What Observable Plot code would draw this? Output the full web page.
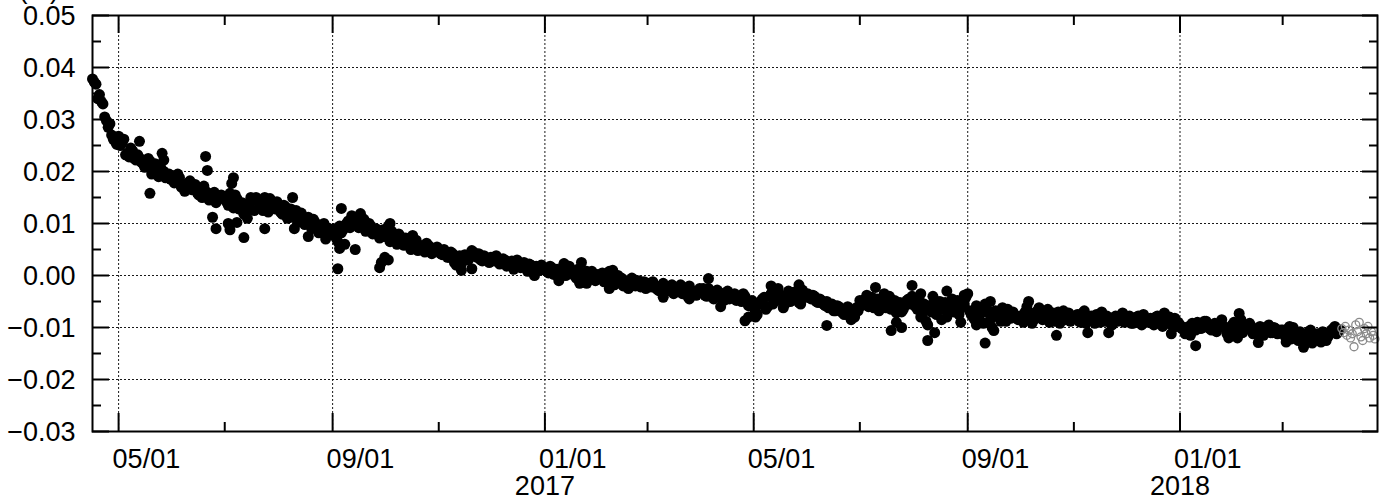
<!DOCTYPE html>
<html>
<head>
<meta charset="utf-8">
<script src="https://cdn.jsdelivr.net/npm/d3@7"></script>
<script src="https://cdn.jsdelivr.net/npm/@observablehq/plot@0.6"></script>
<style>
  body { margin: 0; background: #fff; }
  #chart svg { display: block; }
</style>
</head>
<body>
<div id="chart"></div>
<script>
// ---- Data ----
// Filled black dots. Set A: one value every 2 days from each month's first listed day;
// set B: the days in between (start + 1, + 3, ...).
const stepDays = 2;
const monthStarts = [
  "2016-04-16", "2016-05-01", "2016-06-01", "2016-07-01", "2016-08-01", "2016-09-01",
  "2016-10-01", "2016-11-01", "2016-12-01", "2017-01-01", "2017-02-01", "2017-03-01",
  "2017-04-01", "2017-05-01", "2017-06-01", "2017-07-01", "2017-08-01", "2017-09-01",
  "2017-10-01", "2017-11-01", "2017-12-01", "2018-01-01", "2018-02-01", "2018-03-01",
  "2018-04-01"
];
const monthValuesA = [
  [0.0378, 0.0368, 0.0348, 0.0330, 0.0298, 0.0292, 0.0262, 0.0252],
  [0.0268, 0.0255, 0.0232, 0.0228, 0.0240, 0.0222, 0.0226, 0.0215, 0.0212, 0.0220, 0.0205, 0.0198, 0.0210, 0.0200, 0.0192, 0.0185],
  [0.0192, 0.0180, 0.0188, 0.0175, 0.0168, 0.0182, 0.0170, 0.0160, 0.0165, 0.0172, 0.0158, 0.0152, 0.0160, 0.0148, 0.0155],
  [0.0150, 0.0135, 0.0145, 0.0155, 0.0128, 0.0140, 0.0120, 0.0132, 0.0145, 0.0150, 0.0138, 0.0125, 0.0140, 0.0148, 0.0130, 0.0142],
  [0.0128, 0.0118, 0.0132, 0.0120, 0.0112, 0.0125, 0.0115, 0.0105, 0.0110, 0.0098, 0.0108, 0.0095, 0.0088, 0.0100, 0.0092, 0.0085],
  [0.0080, 0.0072, 0.0095, 0.0088, 0.0100, 0.0092, 0.0105, 0.0112, 0.0098, 0.0108, 0.0090, 0.0095, 0.0085, 0.0078, 0.0082],
  [0.0075, 0.0095, 0.0085, 0.0070, 0.0080, 0.0065, 0.0072, 0.0060, 0.0055, 0.0068, 0.0058, 0.0052, 0.0062, 0.0055, 0.0048, 0.0055],
  [0.0048, 0.0040, 0.0045, 0.0035, 0.0042, 0.0030, 0.0038, 0.0028, 0.0032, 0.0040, 0.0045, 0.0035, 0.0030, 0.0038, 0.0032],
  [0.0035, 0.0028, 0.0032, 0.0025, 0.0030, 0.0022, 0.0028, 0.0018, 0.0025, 0.0020, 0.0015, 0.0022, 0.0012, 0.0018, 0.0010, 0.0015],
  [0.0012, 0.0005, 0.0015, 0.0008, 0.0002, 0.0010, 0.0000, 0.0018, 0.0005, -0.0005, 0.0003, -0.0008, 0.0008, 0.0000, -0.0005, 0.0002],
  [-0.0005, 0.0005, -0.0010, 0.0008, -0.0015, -0.0005, -0.0012, -0.0020, -0.0010, -0.0018, -0.0008, -0.0015, -0.0022, -0.0012],
  [-0.0015, -0.0022, -0.0018, -0.0028, -0.0020, -0.0032, -0.0025, -0.0018, -0.0030, -0.0022, -0.0035, -0.0028, -0.0020, -0.0032, -0.0038, -0.0025],
  [-0.0030, -0.0038, -0.0025, -0.0035, -0.0042, -0.0032, -0.0040, -0.0036, -0.0045, -0.0038, -0.0048, -0.0042, -0.0035, -0.0050, -0.0055],
  [-0.0062, -0.0075, -0.0050, -0.0042, -0.0060, -0.0035, -0.0048, -0.0025, -0.0040, -0.0055, -0.0030, -0.0045, -0.0038, -0.0052, -0.0028, -0.0042],
  [-0.0035, -0.0045, -0.0040, -0.0052, -0.0048, -0.0058, -0.0062, -0.0055, -0.0068, -0.0060, -0.0072, -0.0065, -0.0078, -0.0070, -0.0062],
  [-0.0048, -0.0055, -0.0038, -0.0050, -0.0062, -0.0045, -0.0058, -0.0035, -0.0052, -0.0065, -0.0048, -0.0060, -0.0070, -0.0055, -0.0045, -0.0040],
  [-0.0050, -0.0065, -0.0080, -0.0055, -0.0095, -0.0070, -0.0048, -0.0062, -0.0085, -0.0052, -0.0068, -0.0045, -0.0060, -0.0075, -0.0050, -0.0042],
  [-0.0035, -0.0075, -0.0085, -0.0065, -0.0090, -0.0055, -0.0072, -0.0100, -0.0068, -0.0080, -0.0062, -0.0088, -0.0075, -0.0070, -0.0082],
  [-0.0078, -0.0090, -0.0060, -0.0072, -0.0085, -0.0068, -0.0080, -0.0075, -0.0065, -0.0082, -0.0088, -0.0070, -0.0078, -0.0085, -0.0072, -0.0080],
  [-0.0082, -0.0075, -0.0090, -0.0068, -0.0085, -0.0078, -0.0092, -0.0080, -0.0070, -0.0088, -0.0082, -0.0095, -0.0078, -0.0085, -0.0072],
  [-0.0085, -0.0078, -0.0092, -0.0080, -0.0088, -0.0075, -0.0090, -0.0082, -0.0095, -0.0078, -0.0085, -0.0072, -0.0088, -0.0095, -0.0082, -0.0090],
  [-0.0095, -0.0100, -0.0108, -0.0115, -0.0098, -0.0090, -0.0102, -0.0088, -0.0095, -0.0105, -0.0092, -0.0098, -0.0085, -0.0100, -0.0108, -0.0095],
  [-0.0090, -0.0120, -0.0085, -0.0095, -0.0102, -0.0098, -0.0108, -0.0112, -0.0100, -0.0105, -0.0095, -0.0110, -0.0102, -0.0108],
  [-0.0105, -0.0128, -0.0112, -0.0100, -0.0118, -0.0108, -0.0138, -0.0115, -0.0105, -0.0120, -0.0112, -0.0128, -0.0110, -0.0118, -0.0105, -0.0098],
  [-0.0112, -0.0105]
];
const monthValuesB = [
  [0.0372, 0.0340, 0.0335, 0.0305, 0.0285, 0.0270, 0.0258],
  [0.0250, 0.0262, 0.0235, 0.0245, 0.0225, 0.0232, 0.0218, 0.0208, 0.0225, 0.0195, 0.0215, 0.0190, 0.0202, 0.0188, 0.0195],
  [0.0178, 0.0195, 0.0170, 0.0162, 0.0178, 0.0165, 0.0175, 0.0155, 0.0150, 0.0162, 0.0145, 0.0158, 0.0140, 0.0152, 0.0148],
  [0.0142, 0.0158, 0.0130, 0.0148, 0.0135, 0.0118, 0.0138, 0.0150, 0.0125, 0.0145, 0.0132, 0.0150, 0.0122, 0.0135, 0.0128],
  [0.0122, 0.0135, 0.0110, 0.0128, 0.0118, 0.0102, 0.0120, 0.0098, 0.0112, 0.0090, 0.0102, 0.0082, 0.0095, 0.0078, 0.0090],
  [0.0090, 0.0065, 0.0082, 0.0095, 0.0105, 0.0115, 0.0100, 0.0092, 0.0110, 0.0085, 0.0100, 0.0080, 0.0090, 0.0072, 0.0088],
  [0.0082, 0.0065, 0.0078, 0.0060, 0.0075, 0.0058, 0.0068, 0.0050, 0.0062, 0.0048, 0.0055, 0.0045, 0.0058, 0.0042, 0.0050],
  [0.0042, 0.0050, 0.0035, 0.0045, 0.0025, 0.0035, 0.0022, 0.0040, 0.0030, 0.0048, 0.0038, 0.0042, 0.0028, 0.0035, 0.0025],
  [0.0030, 0.0038, 0.0022, 0.0032, 0.0018, 0.0025, 0.0012, 0.0030, 0.0015, 0.0025, 0.0008, 0.0020, 0.0005, 0.0012, 0.0020],
  [0.0008, 0.0018, 0.0002, 0.0012, -0.0002, 0.0022, 0.0005, 0.0010, 0.0000, 0.0012, -0.0010, 0.0005, -0.0002, 0.0008, -0.0010],
  [0.0000, -0.0012, 0.0002, -0.0008, -0.0018, 0.0000, -0.0005, -0.0015, -0.0025, -0.0005, -0.0020, -0.0010, -0.0018, -0.0025],
  [-0.0020, -0.0012, -0.0025, -0.0030, -0.0015, -0.0028, -0.0020, -0.0035, -0.0025, -0.0018, -0.0030, -0.0040, -0.0028, -0.0035, -0.0030],
  [-0.0025, -0.0040, -0.0030, -0.0045, -0.0028, -0.0035, -0.0048, -0.0030, -0.0042, -0.0035, -0.0045, -0.0050, -0.0040, -0.0058, -0.0048],
  [-0.0068, -0.0055, -0.0045, -0.0065, -0.0040, -0.0055, -0.0032, -0.0048, -0.0062, -0.0038, -0.0050, -0.0032, -0.0045, -0.0055, -0.0035],
  [-0.0042, -0.0038, -0.0050, -0.0045, -0.0055, -0.0050, -0.0062, -0.0068, -0.0058, -0.0065, -0.0075, -0.0060, -0.0072, -0.0080, -0.0068],
  [-0.0058, -0.0045, -0.0060, -0.0042, -0.0055, -0.0068, -0.0050, -0.0062, -0.0040, -0.0058, -0.0072, -0.0052, -0.0065, -0.0048, -0.0055],
  [-0.0060, -0.0045, -0.0072, -0.0088, -0.0058, -0.0040, -0.0075, -0.0050, -0.0065, -0.0080, -0.0055, -0.0070, -0.0048, -0.0062, -0.0055],
  [-0.0068, -0.0080, -0.0058, -0.0075, -0.0092, -0.0065, -0.0085, -0.0070, -0.0078, -0.0088, -0.0072, -0.0065, -0.0082, -0.0078, -0.0085],
  [-0.0085, -0.0070, -0.0080, -0.0092, -0.0075, -0.0062, -0.0085, -0.0078, -0.0090, -0.0072, -0.0080, -0.0092, -0.0068, -0.0082, -0.0088],
  [-0.0078, -0.0088, -0.0072, -0.0092, -0.0080, -0.0086, -0.0075, -0.0090, -0.0082, -0.0078, -0.0092, -0.0085, -0.0088, -0.0080, -0.0090],
  [-0.0080, -0.0092, -0.0085, -0.0078, -0.0095, -0.0082, -0.0088, -0.0092, -0.0080, -0.0090, -0.0098, -0.0085, -0.0080, -0.0092, -0.0098],
  [-0.0102, -0.0112, -0.0098, -0.0092, -0.0105, -0.0095, -0.0100, -0.0088, -0.0102, -0.0095, -0.0108, -0.0092, -0.0098, -0.0112, -0.0100],
  [-0.0105, -0.0095, -0.0110, -0.0100, -0.0092, -0.0112, -0.0105, -0.0098, -0.0115, -0.0102, -0.0110, -0.0100, -0.0112, -0.0105],
  [-0.0115, -0.0102, -0.0122, -0.0110, -0.0125, -0.0112, -0.0120, -0.0108, -0.0130, -0.0115, -0.0122, -0.0108, -0.0125, -0.0112, -0.0102],
  [-0.0108]
];
// Scattered filled dots off the main band
const extraDates = [
  "2016-05-13", "2016-05-19", "2016-05-26", "2016-05-27", "2016-06-20", "2016-06-21", "2016-06-24", "2016-06-26",
  "2016-07-03", "2016-07-04", "2016-07-05", "2016-07-06", "2016-07-08", "2016-07-12", "2016-07-14", "2016-07-24",
  "2016-08-09", "2016-08-10", "2016-08-18", "2016-08-28", "2016-09-04", "2016-09-05", "2016-09-06", "2016-09-08",
  "2016-09-14", "2016-09-17", "2016-09-28", "2016-09-29", "2016-10-01", "2016-10-03", "2016-10-04", "2016-10-17",
  "2016-11-11", "2016-11-14", "2016-11-20", "2016-12-24", "2016-12-26", "2017-01-09", "2017-01-12", "2017-01-21",
  "2017-01-22", "2017-01-25", "2017-02-07", "2017-02-09", "2017-03-10", "2017-03-25", "2017-04-05", "2017-04-12",
  "2017-04-26", "2017-04-28", "2017-05-02", "2017-05-11", "2017-05-27", "2017-06-12", "2017-06-26", "2017-07-10",
  "2017-07-19", "2017-07-22", "2017-07-25", "2017-07-31", "2017-08-05", "2017-08-09", "2017-08-13", "2017-08-20",
  "2017-08-28", "2017-08-30", "2017-09-06", "2017-09-11", "2017-09-14", "2017-09-16", "2017-10-06", "2017-10-22",
  "2017-11-09", "2017-11-21", "2017-12-27", "2018-01-10", "2018-01-29", "2018-02-04", "2018-02-15", "2018-03-05",
  "2018-03-23"
];
const extraValues = [
  0.0258, 0.0158, 0.0235, 0.0222, 0.0229, 0.0202, 0.0112, 0.0090,
  0.0100, 0.0088, 0.0177, 0.0188, 0.0102, 0.0073, 0.0110, 0.0090,
  0.0150, 0.0090, 0.0075, 0.0070, 0.0013, 0.0052, 0.0129, 0.0060,
  0.0050, 0.0119, 0.0015, 0.0025, 0.0035, 0.0030, 0.0100, 0.0077,
  0.0020, 0.0010, 0.0013, 0.0008, 0.0000, -0.0010, 0.0023, -0.0015,
  0.0025, -0.0015, -0.0025, 0.0010, -0.0042, -0.0045, -0.0006, -0.0060,
  -0.0087, -0.0080, -0.0080, -0.0020, -0.0018, -0.0096, -0.0085, -0.0023,
  -0.0106, -0.0090, -0.0100, -0.0019, -0.0035, -0.0125, -0.0110, -0.0030,
  -0.0090, -0.0038, -0.0095, -0.0130, -0.0050, -0.0106, -0.0050, -0.0115,
  -0.0110, -0.0110, -0.0112, -0.0135, -0.0120, -0.0073, -0.0129, -0.0098,
  -0.0125
];
// Open grey circles (latest, provisional values)
const hollowDates = [
  "2018-04-04", "2018-04-05", "2018-04-06", "2018-04-07", "2018-04-08", "2018-04-09", "2018-04-10",
  "2018-04-11", "2018-04-12", "2018-04-13", "2018-04-14", "2018-04-15", "2018-04-16", "2018-04-17",
  "2018-04-18", "2018-04-19", "2018-04-20", "2018-04-21", "2018-04-22", "2018-04-23"
];
const hollowValues = [
  -0.0102, -0.0110, -0.0098, -0.0115, -0.0105, -0.0120, -0.0112,
  -0.0137, -0.0095, -0.0108, -0.0090, -0.0118, -0.0125, -0.0102,
  -0.0112, -0.0098, -0.0120, -0.0108, -0.0115, -0.0122
];
// Axes
const xMajorDates = ["2016-05-01", "2016-09-01", "2017-01-01", "2017-05-01", "2017-09-01", "2018-01-01"];
const xMajorLabels = ["05/01", "09/01", "01/01", "05/01", "09/01", "01/01"];
const xYearDates = ["2017-01-01", "2018-01-01"];
const xYearLabels = ["2017", "2018"];
const xMinorDates = ["2016-07-01", "2016-11-01", "2017-03-01", "2017-07-01", "2017-11-01", "2018-03-01"];
const yMajor = [-0.03, -0.02, -0.01, 0, 0.01, 0.02, 0.03, 0.04, 0.05];
const yMajorLabels = ["\u22120.03", "\u22120.02", "\u22120.01", "0.00", "0.01", "0.02", "0.03", "0.04", "0.05"];
const yMinor = [-0.025, -0.015, -0.005, 0.005, 0.015, 0.025, 0.035, 0.045];
const unitLabel = "(m)";

// ---- Build tables ----
const parse = d3.utcParse("%Y-%m-%d");
const filled = [];
monthStarts.forEach((s, i) => {
  const t0 = parse(s);
  monthValuesA[i].forEach((v, j) => filled.push({date: d3.utcDay.offset(t0, j * stepDays), value: v}));
  monthValuesB[i].forEach((v, j) => filled.push({date: d3.utcDay.offset(t0, 1 + j * stepDays), value: v}));
});
extraDates.forEach((d, i) => filled.push({date: parse(d), value: extraValues[i]}));
const hollow = hollowDates.map((d, i) => ({date: parse(d), value: hollowValues[i]}));

const xMajor = xMajorDates.map(parse);
const xMinor = xMinorDates.map(parse);
const xYears = xYearDates.map(parse);
const xLabelMap = new Map(xMajor.map((d, i) => [+d, xMajorLabels[i]]));
const xYearMap = new Map(xYears.map((d, i) => [+d, xYearLabels[i]]));
const yLabelMap = new Map(yMajor.map((v, i) => [v, yMajorLabels[i]]));

const gridStyle = {stroke: "black", strokeOpacity: 0.9, strokeWidth: 1, strokeDasharray: "2,2"};
const tickStyle = {stroke: "black", strokeOpacity: 1, strokeWidth: 2, fill: "none", label: null};

const chart = Plot.plot({
  width: 1390,
  height: 499,
  marginLeft: 92,
  marginRight: 13,
  marginTop: 15,
  marginBottom: 68,
  style: {fontFamily: "'Liberation Sans', Arial, sans-serif", fontSize: "27px", color: "black", background: "white", overflow: "visible"},
  x: {type: "utc", domain: [parse("2016-04-16"), new Date(Date.UTC(2018, 3, 24, 12))]},
  y: {domain: [-0.03, 0.05]},
  marks: [
    Plot.gridX(xMajor, gridStyle),
    Plot.gridY(yMajor, gridStyle),
    Plot.dot(filled, {x: "date", y: "value", r: 5.5, fill: "black", stroke: "none"}),
    Plot.dot(hollow, {x: "date", y: "value", r: 4, fill: "none", stroke: "#8a8a8a", strokeWidth: 1.3}),
    Plot.frame({stroke: "black", strokeWidth: 2}),
    // inward ticks, all four sides
    Plot.axisX(xMajor, {anchor: "bottom", tickSize: -18, ...tickStyle}),
    Plot.axisX(xMinor, {anchor: "bottom", tickSize: -9, ...tickStyle}),
    Plot.axisX(xMajor, {anchor: "top", tickSize: -17, ...tickStyle}),
    Plot.axisX(xMinor, {anchor: "top", tickSize: -9, ...tickStyle}),
    Plot.axisY(yMajor, {anchor: "left", tickSize: -17, ...tickStyle}),
    Plot.axisY(yMinor, {anchor: "left", tickSize: -9, ...tickStyle}),
    Plot.axisY(yMajor, {anchor: "right", tickSize: -16, ...tickStyle}),
    Plot.axisY(yMinor, {anchor: "right", tickSize: -9, ...tickStyle}),
    // tick labels
    Plot.axisX(xMajor, {anchor: "bottom", tickSize: 0, tickPadding: 17, textAnchor: "start", dx: -6, tickFormat: (d) => xLabelMap.get(+d), fontSize: 27, label: null}),
    Plot.axisX(xYears, {anchor: "bottom", tickSize: 0, tickPadding: 44, tickFormat: (d) => xYearMap.get(+d), fontSize: 27, label: null}),
    Plot.axisY(yMajor, {anchor: "left", tickSize: 0, tickPadding: 17, tickFormat: (d) => yLabelMap.get(d), dy: 1, fontSize: 27, label: null}),
    // unit label, mostly above the frame
    Plot.text([unitLabel], {frameAnchor: "top-left", dx: -74, dy: -17.5, textAnchor: "start", lineAnchor: "bottom", fontSize: 27})
  ]
});
document.getElementById("chart").appendChild(chart);
</script>
</body>
</html>
